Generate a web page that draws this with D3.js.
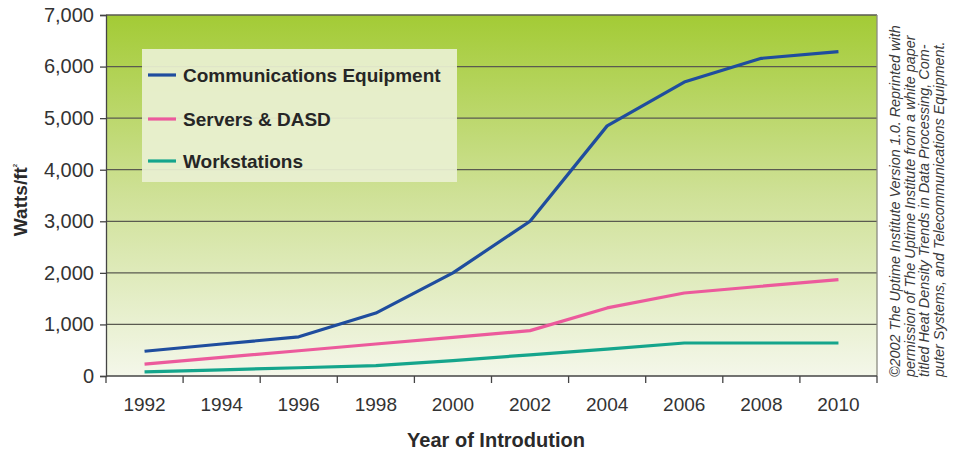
<!DOCTYPE html>
<html>
<head>
<meta charset="utf-8">
<script src="https://cdn.jsdelivr.net/npm/d3@7/dist/d3.min.js"></script>
<style>
  html, body { margin: 0; padding: 0; background: #fff; }
  svg { display: block; font-family: "Liberation Sans", Arial, sans-serif; }
</style>
</head>
<body>
<svg id="chart" width="953" height="452"></svg>
<script>
// Heat density trends (Watts per square foot) by year of introduction
const years = ["1992", "1994", "1996", "1998", "2000", "2002", "2004", "2006", "2008", "2010"];
const commEquipment = [480, 620, 760, 1220, 2000, 3000, 4850, 5700, 6160, 6290];
const serversDasd   = [230, 360, 490, 620, 750, 880, 1320, 1610, 1740, 1870];
const workstations  = [80, 120, 160, 200, 300, 410, 520, 640, 640, 640];
const yTicks = [0, 1000, 2000, 3000, 4000, 5000, 6000, 7000];

const seriesNames  = ["Communications Equipment", "Servers & DASD", "Workstations"];
const seriesValues = [commEquipment, serversDasd, workstations];
const seriesColors = ["#1f4d9e", "#ec5a9c", "#15a58c"];

const creditLines = [
  "\u00A92002 The Uptime Institute Version 1.0. Reprinted with",
  "permission of The Uptime Institute from a white paper",
  "titled Heat Density Trends in Data Processing, Com-",
  "puter Systems, and Telecommunications Equipment."
];

const svg = d3.select("#chart");
const m = { left: 106, right: 877, top: 15, bottom: 376 };

const x = d3.scaleBand().domain(years).range([m.left, m.right]);
const y = d3.scaleLinear().domain([0, 7000]).range([m.bottom, m.top]);

// Plot background gradient
const defs = svg.append("defs");
const grad = defs.append("linearGradient").attr("id", "bg").attr("x1", 0).attr("y1", 0).attr("x2", 0).attr("y2", 1);
grad.append("stop").attr("offset", "0%").attr("stop-color", "#a3cb35");
grad.append("stop").attr("offset", "50%").attr("stop-color", "#cfe197");
grad.append("stop").attr("offset", "100%").attr("stop-color", "#f4f7ea");

svg.append("rect")
  .attr("x", m.left).attr("y", m.top)
  .attr("width", m.right - m.left).attr("height", m.bottom - m.top)
  .attr("fill", "url(#bg)");

// Horizontal gridlines
svg.append("g").selectAll("line").data(yTicks.filter(d => d > 0)).join("line")
  .attr("x1", m.left).attr("x2", m.right)
  .attr("y1", d => y(d)).attr("y2", d => y(d))
  .attr("stroke", "#5a5a50").attr("stroke-width", 1.3);

// Right border of plot
svg.append("line")
  .attr("x1", m.right).attr("x2", m.right).attr("y1", m.top).attr("y2", m.bottom)
  .attr("stroke", "#8a8a80").attr("stroke-width", 1.3);

// Y axis
const yAxis = svg.append("g")
  .attr("transform", `translate(${m.left},0)`)
  .call(d3.axisLeft(y).tickValues(yTicks).tickFormat(d3.format(",")).tickSize(6).tickPadding(6));
yAxis.select(".domain").attr("stroke", "#444").attr("stroke-width", 1.3);
yAxis.selectAll(".tick line").attr("stroke", "#444").attr("stroke-width", 1.3);
yAxis.selectAll(".tick text").attr("font-size", 20).attr("fill", "#333")
  .attr("font-family", "Liberation Sans, Arial, sans-serif");

// X axis: ticks between categories
const xAxisG = svg.append("g").attr("transform", `translate(0,${m.bottom})`);
xAxisG.append("line").attr("x1", m.left).attr("x2", m.right).attr("y1", 0).attr("y2", 0)
  .attr("stroke", "#444").attr("stroke-width", 1.3);
const boundaries = years.map(d => x(d)).concat([m.right]);
xAxisG.selectAll("line.tk").data(boundaries).join("line").attr("class", "tk")
  .attr("x1", d => d).attr("x2", d => d).attr("y1", 0).attr("y2", 7)
  .attr("stroke", "#444").attr("stroke-width", 1.3);
xAxisG.selectAll("text").data(years).join("text")
  .attr("x", d => x(d) + x.bandwidth() / 2).attr("y", 35)
  .attr("text-anchor", "middle").attr("font-size", 19).attr("fill", "#333")
  .text(d => d);

// Axis titles
svg.append("text")
  .attr("x", 496).attr("y", 447)
  .attr("text-anchor", "middle").attr("font-size", 20).attr("font-weight", "bold").attr("fill", "#2a2a2a")
  .text("Year of Introdution");

const yt = svg.append("text")
  .attr("transform", "translate(27,200) rotate(-90)")
  .attr("text-anchor", "middle").attr("font-size", 19).attr("font-weight", "bold").attr("fill", "#2a2a2a");
yt.append("tspan").text("Watts/ft");
yt.append("tspan").attr("font-size", 6).attr("dy", -10).text("2");

// Series lines
const line = d3.line()
  .x((d, i) => x(years[i]) + x.bandwidth() / 2)
  .y(d => y(d));

svg.append("g").selectAll("path").data(seriesValues).join("path")
  .attr("d", d => line(d))
  .attr("fill", "none")
  .attr("stroke", (d, i) => seriesColors[i])
  .attr("stroke-width", 3.2)
  .attr("stroke-linejoin", "round");

// Legend
const lg = svg.append("g");
lg.append("rect")
  .attr("x", 142).attr("y", 49).attr("width", 315).attr("height", 133)
  .attr("fill", "#eaf0d2").attr("fill-opacity", 0.93);
const rowsY = [75, 119, 161];
seriesNames.forEach((name, i) => {
  lg.append("line")
    .attr("x1", 148).attr("x2", 176).attr("y1", rowsY[i]).attr("y2", rowsY[i])
    .attr("stroke", seriesColors[i]).attr("stroke-width", 3.2);
  lg.append("text")
    .attr("x", 183).attr("y", rowsY[i] + 7)
    .attr("font-size", 19).attr("font-weight", "bold").attr("fill", "#262626")
    .text(name);
});

// Credit note along the right edge
const credit = svg.append("g").attr("font-style", "italic").attr("font-size", 14.4).attr("fill", "#3a3a3a");
creditLines.forEach((t, i) => {
  credit.append("text")
    .attr("transform", `translate(${900 + i * 14.6},377) rotate(-90)`)
    .attr("text-anchor", "start")
    .text(t);
});
</script>
</body>
</html>
